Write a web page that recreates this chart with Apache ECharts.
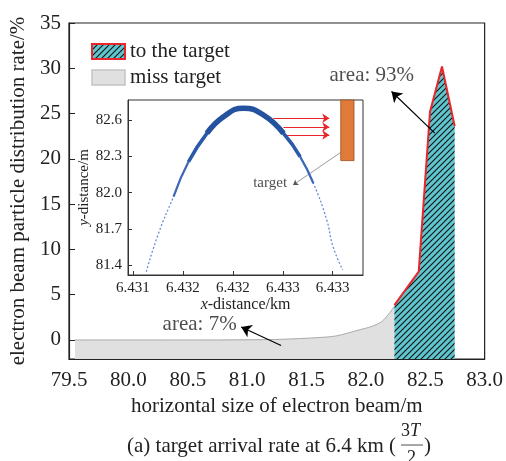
<!DOCTYPE html>
<html><head><meta charset="utf-8">
<script src="https://cdn.jsdelivr.net/npm/echarts@6/dist/echarts.min.js"></script>
<style>html,body{margin:0;padding:0;background:#fff}#c{width:506px;height:461px}</style>
</head><body><div id="c"></div>
<script>
// ---- main chart data ----
const missX = [79.55, 80.5, 81.0, 81.3, 81.58, 81.75, 81.94, 82.05, 82.14, 82.24];
const missY = [0, 0, 0.02, 0.08, 0.25, 0.45, 1.1, 1.5, 2.1, 3.7];
const targetX = [82.24, 82.445, 82.54, 82.641, 82.748];
const targetY = [3.85, 7.54, 25.2, 30.2, 23.6];
const mainXTicks = [79.5, 80.0, 80.5, 81.0, 81.5, 82.0, 82.5, 83.0];
const mainYTicks = [0, 5, 10, 15, 20, 25, 30, 35];
// annotations [x, y]
const note93 = {text: 'area: 93%', at: [82.05, 29.15], from: [82.58, 22.84], to: [82.216, 27.44]};
const note7 = {text: 'area: 7%', at: [80.6, 1.66], from: [81.286, -0.61], to: [80.95, 1.44]};

// ---- inset data ----
const beamX = [6.431133, 6.431256, 6.431406, 6.431556, 6.431740, 6.431906, 6.432106, 6.432306, 6.432506, 6.432673, 6.432806, 6.432940, 6.433003, 6.433100];
const beamY = [81.346, 81.664, 81.966, 82.255, 82.490, 82.627, 82.697, 82.641, 82.490, 82.297, 82.077, 81.774, 81.553, 81.360];
const arrowY = [82.614, 82.542, 82.476];
const arrowX0 = [6.432406, 6.432506, 6.432533];
const arrowX1 = 6.432966;
const targetRect = [6.43308, 82.765, 6.433213, 82.264];
const targetNote = {text: 'target', at: [6.432373, 82.079], from: [6.43314, 82.366], to: [6.432603, 82.063]};
const insetXTicks = [6.4310, 6.4315, 6.4320, 6.4325, 6.4330];
const insetXLabels = ['6.431', '6.432', '6.432', '6.433', '6.433'];
const insetYTicks = [81.4, 81.7, 82.0, 82.3, 82.6];

const FONT = 'Liberation Serif';
const TXT = '#222';

function hatch() {
  const s = 6, c = document.createElement('canvas');
  c.width = s; c.height = s;
  const g = c.getContext('2d');
  g.fillStyle = '#5ec6cf'; g.fillRect(0, 0, s, s);
  g.strokeStyle = '#111'; g.lineWidth = 1.1;
  g.beginPath();
  g.moveTo(0, s); g.lineTo(s, 0);
  g.moveTo(-1, 1); g.lineTo(1, -1);
  g.moveTo(s - 1, s + 1); g.lineTo(s + 1, s - 1);
  g.stroke();
  return {image: c, repeat: 'repeat'};
}
const pat = hatch();
const zip = (a, b) => a.map((v, i) => [v, b[i]]);

const chart = echarts.init(document.getElementById('c'), null, {renderer: 'canvas'});

const beam = zip(beamX, beamY);
const beamMid = beam.filter(p => p[1] > 81.85);
const beamUpper = beam.filter(p => p[1] > 82.2);
const beamTop = beam.filter(p => p[1] > 82.45);

function arrowLine(color, width, size, pairs) {
  return {silent: true, symbol: ['none', 'arrow'], symbolSize: size, label: {show: false},
    itemStyle: {color: color}, lineStyle: {color: color, width: width, type: 'solid'},
    emphasis: {disabled: true}, data: pairs};
}

chart.setOption({
  animation: false,
  textStyle: {fontFamily: FONT, color: TXT},
  legend: {
    left: 86, top: 36, orient: 'vertical', itemWidth: 33, itemHeight: 15, itemGap: 5,
    textStyle: {fontFamily: FONT, fontSize: 21, color: TXT},
    data: [
      {name: 'to the target', icon: 'rect', itemStyle: {color: pat, borderColor: '#e8262b', borderWidth: 2}},
      {name: 'miss target', icon: 'rect', itemStyle: {color: '#e0e0e0', borderColor: '#c4c4c4', borderWidth: 1.5}}
    ],
    selectedMode: false
  },
  grid: [
    {left: 69, top: 23, width: 416, height: 336, show: true, borderColor: '#222', borderWidth: 1.2, backgroundColor: 'transparent'},
    {left: 128, top: 100, width: 235, height: 175, show: true, borderColor: '#333', borderWidth: 1, backgroundColor: '#fff', z: 5}
  ],
  xAxis: [
    {gridIndex: 0, type: 'value', min: 79.5, max: 83.0,
     name: 'horizontal size of electron beam/m', nameLocation: 'middle', nameGap: 37,
     nameTextStyle: {fontFamily: FONT, fontSize: 21, color: TXT},
     axisLine: {onZero: false, lineStyle: {color: '#222', width: 1.2}},
     axisTick: {inside: true, length: 6, customValues: mainXTicks, lineStyle: {color: '#222'}},
     axisLabel: {customValues: mainXTicks, fontFamily: FONT, fontSize: 21, color: TXT, margin: 11, formatter: v => v.toFixed(1)},
     splitLine: {show: false}},
    {gridIndex: 1, type: 'value', min: 6.43095, max: 6.433303, z: 6,
     name: '{i|x}-distance/km', nameLocation: 'middle', nameGap: 22,
     nameTextStyle: {fontFamily: FONT, fontSize: 16, color: TXT, rich: {i: {fontStyle: 'italic', fontFamily: FONT, fontSize: 16, color: TXT}}},
     axisLine: {onZero: false, lineStyle: {color: '#333'}},
     axisTick: {inside: true, length: 4, customValues: insetXTicks, lineStyle: {color: '#333'}},
     axisLabel: {customValues: insetXTicks, fontFamily: FONT, fontSize: 15, color: TXT, margin: 6,
       formatter: v => { let k = 0; insetXTicks.forEach((t, i) => { if (Math.abs(t - v) < Math.abs(insetXTicks[k] - v)) k = i; }); return insetXLabels[k]; }},
     splitLine: {show: false}}
  ],
  yAxis: [
    {gridIndex: 0, type: 'value', min: -2.1, max: 35,
     name: 'electron beam particle distribution rate/%', nameLocation: 'middle', nameGap: 37,
     nameTextStyle: {fontFamily: FONT, fontSize: 21, color: TXT},
     axisLine: {onZero: false, lineStyle: {color: '#222', width: 1.2}},
     axisTick: {inside: true, length: 6, customValues: mainYTicks, lineStyle: {color: '#222'}},
     axisLabel: {customValues: mainYTicks, fontFamily: FONT, fontSize: 21, color: TXT, margin: 8},
     splitLine: {show: false}},
    {gridIndex: 1, type: 'value', min: 81.319, max: 82.765, z: 6,
     name: '{i|y}-distance/m', nameLocation: 'middle', nameGap: 30,
     nameTextStyle: {fontFamily: FONT, fontSize: 15, color: TXT, rich: {i: {fontStyle: 'italic', fontFamily: FONT, fontSize: 15, color: TXT}}},
     axisLine: {onZero: false, lineStyle: {color: '#333'}},
     axisTick: {inside: true, length: 4, customValues: insetYTicks, lineStyle: {color: '#333'}},
     axisLabel: {customValues: insetYTicks, fontFamily: FONT, fontSize: 15, color: TXT, margin: 6, formatter: v => v.toFixed(1)},
     splitLine: {show: false}}
  ],
  series: [
    {name: 'miss target', type: 'line', xAxisIndex: 0, yAxisIndex: 0, data: zip(missX, missY),
     smooth: 0.3, showSymbol: false, symbol: 'none',
     lineStyle: {color: '#a8a8a8', width: 1}, itemStyle: {color: '#e0e0e0'},
     areaStyle: {color: '#e0e0e0', opacity: 1, origin: 'start'}, z: 2,
     markLine: arrowLine('#000', 1.2, 10, [
       [{coord: note93.from}, {coord: note93.to}],
       [{coord: note7.from}, {coord: note7.to}]
     ])},
    {name: 'to the target', type: 'line', xAxisIndex: 0, yAxisIndex: 0, data: zip(targetX, targetY),
     showSymbol: false, symbol: 'none',
     lineStyle: {color: '#e8262b', width: 2}, itemStyle: {color: '#5ec6cf'},
     areaStyle: {color: pat, opacity: 1, origin: 'start'}, z: 2},
    {name: 'notes', type: 'scatter', xAxisIndex: 0, yAxisIndex: 0, symbolSize: 1, itemStyle: {color: 'rgba(0,0,0,0)'},
     silent: true, z: 3,
     data: [{value: note93.at, label: {formatter: note93.text}}, {value: note7.at, label: {formatter: note7.text}}],
     label: {show: true, position: 'inside', fontFamily: FONT, fontSize: 21, color: TXT}},
    // inset
    {name: 'target', type: 'custom', xAxisIndex: 1, yAxisIndex: 1, z: 9, silent: true, clip: false,
     data: [targetRect],
     renderItem: (params, api) => {
       const p0 = api.coord([api.value(0), api.value(1)]);
       const p1 = api.coord([api.value(2), api.value(3)]);
       return {type: 'rect', shape: {x: p0[0], y: p0[1], width: p1[0] - p0[0], height: p1[1] - p0[1]},
         style: {fill: '#e07b39', stroke: '#9a4f1e', lineWidth: 0.8}};
     }},
    {name: 'beam', type: 'line', xAxisIndex: 1, yAxisIndex: 1, data: beam, smooth: true, symbol: 'none', z: 10,
     lineStyle: {color: '#6a8ed3', width: 1.3, type: [2, 2]},
     markLine: arrowLine('#e8262b', 1, 7, arrowY.map((y, i) => [{coord: [arrowX0[i], y]}, {coord: [arrowX1, y]}]))},
    {name: 'beamMid', type: 'line', xAxisIndex: 1, yAxisIndex: 1, data: beamMid, smooth: true, symbol: 'none', z: 11,
     lineStyle: {color: '#3e68b6', width: 2.2}},
    {name: 'beamUpper', type: 'line', xAxisIndex: 1, yAxisIndex: 1, data: beamUpper, smooth: true, symbol: 'none', z: 12,
     lineStyle: {color: '#2b5aa8', width: 3.6}},
    {name: 'beamTop', type: 'line', xAxisIndex: 1, yAxisIndex: 1, data: beamTop, smooth: true, symbol: 'none', z: 13,
     lineStyle: {color: '#24529f', width: 5.5},
     markLine: arrowLine('#555', 0.6, 5, [[{coord: targetNote.from}, {coord: targetNote.to}]])},
    {name: 'targetNote', type: 'scatter', xAxisIndex: 1, yAxisIndex: 1, symbolSize: 1, itemStyle: {color: 'rgba(0,0,0,0)'},
     silent: true, z: 14,
     data: [{value: targetNote.at, label: {formatter: targetNote.text}}],
     label: {show: true, position: 'inside', fontFamily: FONT, fontSize: 15, color: TXT}}
  ],
  graphic: [
    {type: 'text', left: 127, top: 436, style: {text: '(a) target arrival rate at 6.4 km (', font: '21px "Liberation Serif"', fill: TXT}},
    {type: 'text', left: 401, top: 422, style: {text: '{a|3}{b|T}', rich: {a: {font: '18px "Liberation Serif"', fill: TXT}, b: {font: 'italic 18px "Liberation Serif"', fill: TXT}}}},
    {type: 'line', shape: {x1: 401, y1: 445, x2: 423, y2: 445}, style: {stroke: TXT, lineWidth: 0.8}},
    {type: 'text', left: 407, top: 449, style: {text: '2', font: '18px "Liberation Serif"', fill: TXT}},
    {type: 'text', left: 424, top: 436, style: {text: ')', font: '21px "Liberation Serif"', fill: TXT}}
  ]
});
</script></body></html>
